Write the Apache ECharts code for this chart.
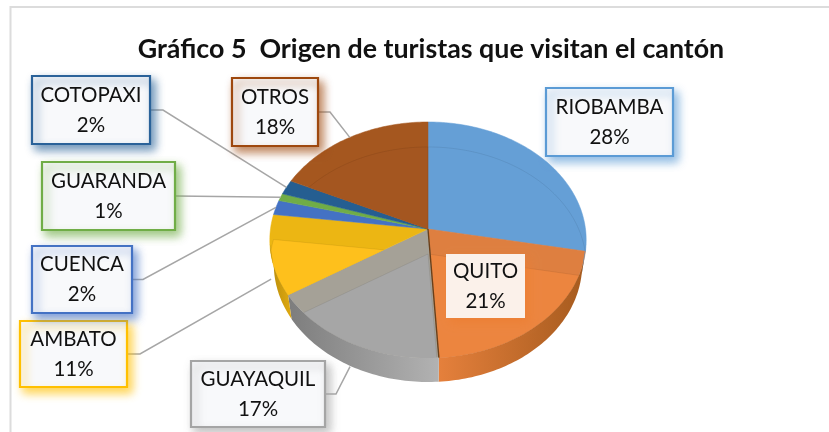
<!DOCTYPE html>
<html>
<head>
<meta charset="utf-8">
<style>
  html, body { margin: 0; padding: 0; background: #fff; }
  #main { width: 829px; height: 432px; }
</style>
</head>
<body>
<div id="main"></div>
<script src="https://cdn.jsdelivr.net/npm/echarts@6/dist/echarts.min.js"></script>
<script>
const categories = ["RIOBAMBA", "QUITO", "GUAYAQUIL", "AMBATO", "CUENCA", "GUARANDA", "COTOPAXI", "OTROS"];
const percentages = [28, 21, 17, 11, 2, 1, 2, 18];

// colours per slice: rim band, lit top, border of the label
const bandColors = ["#659fd6", "#de7f40", "#a5a197", "#ecb613", "#4472c4", "#70ad47", "#255e91", "#a5571f"];
const litColors = ["#659fd6", "#ec853f", "#a6a6a6", "#fec01c", "#4472c4", "#70ad47", "#255e91", "#a45620"];
const borderColors = ["#5b9bd5", "#ed7d31", "#a5a5a5", "#ffc000", "#4472c4", "#70ad47", "#2a6299", "#9e480e"];
const wallColors = [
  ["#5b90c4", "#5b90c4"],
  ["#e5803c", "#a65b1e"],
  ["#7d7d7d", "#b2b2b2"],
  ["#b88c0c", "#e0aa10"],
  null, null, null, null
];

// label boxes: [x, y, width, height]
const labelBoxes = [
  [546, 88, 127, 68],
  [446, 254, 79, 64],
  [191, 361, 134, 66],
  [20, 321, 107, 66],
  [32, 246, 100, 67],
  [42, 162, 133, 68],
  [32, 76, 118, 68],
  [232, 78, 86, 68]
];
// leader elbow x on the box side, rim depth of the end point (null = no leader)
const leaders = [null, null, [336, 24], [140, 24], [143, 0], [176, 0], [163, 0], [330, 0]];

const CX = 428, CY = 229, RX = 157.5, RY = 117, PERSP = 0.093, DEPTH = 24, BAND = 25, BOTTOM_SCALE = 0.975;
const total = percentages.reduce((a, b) => a + b, 0);
const startShare = [];
percentages.reduce((acc, v, i) => { startShare[i] = acc; return acc + v; }, 0);

function project(theta, dy) {
  const u = Math.sin(theta), v = -Math.cos(theta), w = 1 - PERSP * v;
  return [CX + RX * u / w, CY + RY * v / w + (dy || 0)];
}
function angleOf(share) { return share / total * Math.PI * 2; }
function arc(a0, a1, dy) {
  const pts = [];
  const n = Math.max(2, Math.ceil((a1 - a0) / 0.02));
  for (let i = 0; i <= n; i++) pts.push(project(a0 + (a1 - a0) * i / n, dy));
  return pts;
}
function slicePoints(i, dy) {
  const a0 = angleOf(startShare[i]), a1 = angleOf(startShare[i] + percentages[i]);
  return [[CX, CY + (dy || 0)]].concat(arc(a0, a1, dy));
}
function shrink(p) {
  return [CX + (p[0] - CX) * BOTTOM_SCALE, p[1]];
}

function renderTop(params, api) {
  const i = params.dataIndex;
  const outline = slicePoints(i, 0);
  const children = [{
    type: "polygon", shape: { points: outline },
    style: { fill: bandColors[i], stroke: bandColors[i], lineWidth: 0.5 }
  }];
  if (wallColors[i] || i === 7) {
    children.push({
      type: "polygon", shape: { points: slicePoints(i, BAND) },
      clipPath: { type: "polygon", shape: { points: outline } },
      style: { fill: litColors[i], stroke: "rgba(0,0,0,0.12)", lineWidth: 0.6 }
    });
  }
  return { type: "group", children: children };
}

function renderWall(params, api) {
  const i = params.dataIndex;
  if (!wallColors[i]) return { type: "group", children: [] };
  const a0 = Math.max(angleOf(startShare[i]), angleOf(27));
  const a1 = Math.min(angleOf(startShare[i] + percentages[i]), angleOf(73));
  if (a1 <= a0) return { type: "group", children: [] };
  const top = arc(a0, a1, 0);
  const bottom = arc(a0, a1, DEPTH).map(shrink).reverse();
  const children = [{
    type: "polygon", shape: { points: top.concat(bottom) },
    style: {
      fill: {
        type: "linear", x: 0, y: 0, x2: 1, y2: 0,
        colorStops: [
          { offset: 0, color: wallColors[i][0] },
          { offset: 1, color: wallColors[i][1] }
        ]
      }
    }
  }];
  if (i === 1) {
    // dark seam where quito meets guayaquil
    const a = angleOf(startShare[2]);
    children.push({
      type: "polyline",
      shape: { points: [[CX, CY], project(a, 0)] },
      style: { fill: null, stroke: "#6b3f18", lineWidth: 1.4 }
    });
  }
  return { type: "group", children: children };
}

function renderLabel(params, api) {
  const i = params.dataIndex;
  const b = labelBoxes[i];
  const children = [];
  const lead = leaders[i];
  if (lead) {
    const mid = angleOf(startShare[i] + percentages[i] / 2);
    const y = b[1] + b[3] / 2;
    children.push({
      type: "polyline",
      shape: { points: [[b[0] + b[2], y], [lead[0], y], project(mid, lead[1])] },
      style: { fill: null, stroke: "#a6a6a6", lineWidth: 1.5 }
    });
  }
  const hasBorder = i !== 1;
  children.push({
    type: "rect", shape: { x: b[0], y: b[1], width: b[2], height: b[3] },
    style: {
      fill: hasBorder ? "#f8f9fb" : "#fbf1ea",
      stroke: hasBorder ? borderColors[i] : null,
      lineWidth: 2.2,
      shadowColor: echarts.color.modifyAlpha(borderColors[i], 0.7),
      shadowBlur: 9, shadowOffsetX: 4, shadowOffsetY: 5
    }
  });
  children.push({
    type: "text",
    style: {
      x: b[0] + b[2] / 2, y: b[1] + b[3] / 2,
      text: categories[i] + "\n" + api.value(0) + "%",
      align: "center", verticalAlign: "middle",
      font: "20.5px Lato", lineHeight: 30, fill: "#111"
    }
  });
  return { type: "group", children: children };
}

const chart = echarts.init(document.getElementById("main"));
chart.setOption({
  animation: false,
  backgroundColor: "#fff",
  title: {
    text: "Gráfico 5  Origen de turistas que visitan el cantón",
    left: 426, top: 31, textAlign: "center",
    textStyle: { fontFamily: "Lato", fontSize: 26.8, fontWeight: "bold", color: "#111" }
  },
  graphic: [{
    type: "rect", silent: true, z: -1,
    shape: { x: 10.5, y: 7, width: 840, height: 450 },
    style: { fill: "#fff", stroke: "#dcdcdc", lineWidth: 2 }
  }],
  series: [
    { type: "custom", name: "top", coordinateSystem: "none", renderItem: renderTop, data: percentages, z: 2 },
    { type: "custom", name: "wall", coordinateSystem: "none", renderItem: renderWall, data: percentages, z: 3 },
    { type: "custom", name: "labels", coordinateSystem: "none", renderItem: renderLabel, data: percentages, z: 4 }
  ]
});
</script>
</body>
</html>
